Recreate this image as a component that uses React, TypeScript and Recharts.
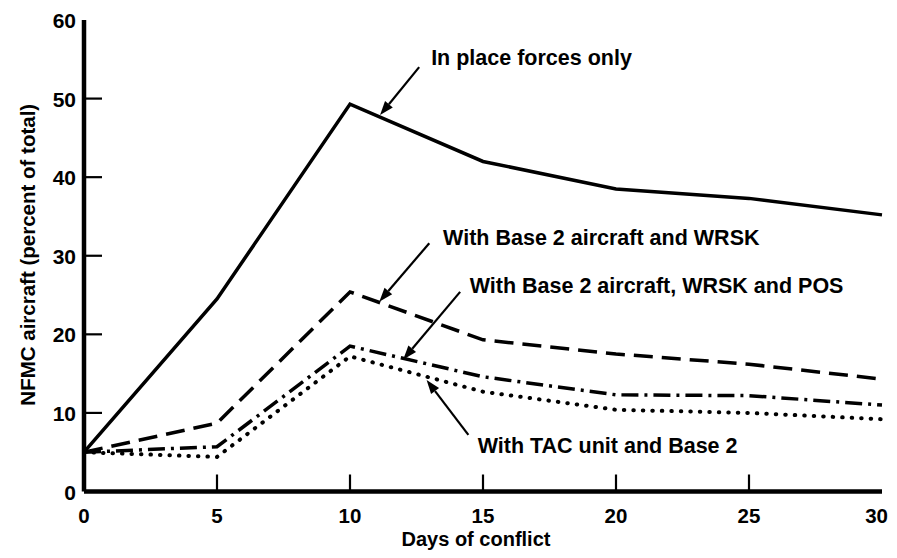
import React from "react";
import {
  LineChart,
  Line,
  XAxis,
  YAxis,
  ReferenceLine,
  ReferenceDot,
} from "recharts";

// ---- Data ----
const days = [0, 5, 10, 15, 20, 25, 30];
const inPlaceForces = [5, 24.5, 49.3, 42, 38.5, 37.3, 35.2];
const base2Wrsk = [5, 8.7, 25.4, 19.3, 17.5, 16.2, 14.3];
const base2WrskPos = [5, 5.7, 18.5, 14.6, 12.3, 12.2, 11.0];
const tacBase2 = [5, 4.4, 17.2, 12.7, 10.4, 10.0, 9.2];

const xTicks = [0, 5, 10, 15, 20, 25, 30];
const yTicks = [0, 10, 20, 30, 40, 50, 60];

const seriesLabels = [
  "In place forces only",
  "With Base 2 aircraft and WRSK",
  "With Base 2 aircraft, WRSK and POS",
  "With TAC unit and Base 2",
];

// annotation anchors in data units: text start, arrow tail, arrow tip
const labelPos = [
  { x: 13.05, y: 54.3 },
  { x: 13.5, y: 31.4 },
  { x: 14.5, y: 25.2 },
  { x: 14.8, y: 4.85 },
];
const arrowFrom = [
  { x: 12.6, y: 54.0 },
  { x: 12.98, y: 31.6 },
  { x: 14.14, y: 25.4 },
  { x: 14.45, y: 7.2 },
];
const arrowTo = [
  { x: 11.13, y: 47.9 },
  { x: 11.1, y: 24.15 },
  { x: 12.0, y: 16.8 },
  { x: 12.88, y: 14.2 },
];

const data = days.map((d, i) => ({
  day: d,
  a: inPlaceForces[i],
  b: base2Wrsk[i],
  c: base2WrskPos[i],
  d: tacBase2[i],
}));

const FONT = "'Liberation Sans', Arial, Helvetica, sans-serif";

const XTick = (props: any) => {
  const { x, y, payload } = props;
  const v = payload.value;
  const edge = v === 0 || v === 30;
  const last = v === 30;
  return (
    <g>
      {!edge && (
        <line x1={x} x2={x} y1={y} y2={y - 17} stroke="#000" strokeWidth={2.2} />
      )}
      <text
        x={last ? x + 6 : x}
        y={y + 31}
        textAnchor={last ? "end" : "middle"}
        fontFamily={FONT}
        fontWeight="bold"
        fontSize={20.5}
        fill="#000"
      >
        {v}
      </text>
    </g>
  );
};

const YTick = (props: any) => {
  const { x, y, payload } = props;
  const v = payload.value;
  const edge = v === 0 || v === 60;
  return (
    <g>
      {!edge && (
        <line x1={x} x2={x + 18} y1={y} y2={y} stroke="#000" strokeWidth={2.2} />
      )}
      <text
        x={x - 8}
        y={y + 8}
        textAnchor="end"
        fontFamily={FONT}
        fontWeight="bold"
        fontSize={21}
        fill="#000"
      >
        {v}
      </text>
    </g>
  );
};

const XLabel = (props: any) => {
  const vb = props.viewBox || { x: 0, y: 0, width: 0, height: 0 };
  return (
    <text
      x={vb.x + vb.width / 2 - 7}
      y={vb.y + 54}
      textAnchor="middle"
      fontFamily={FONT}
      fontWeight="bold"
      fontSize={20}
      fill="#000"
    >
      Days of conflict
    </text>
  );
};

const YLabel = (props: any) => {
  const vb = props.viewBox || { x: 0, y: 0, width: 0, height: 0 };
  const cx = vb.x + 19;
  const cy = vb.y + vb.height / 2 - 1;
  return (
    <text
      x={cx}
      y={cy}
      transform={`rotate(-90 ${cx} ${cy})`}
      textAnchor="middle"
      dominantBaseline="central"
      fontFamily={FONT}
      fontWeight="bold"
      fontSize={20.5}
      fill="#000"
    >
      NFMC aircraft (percent of total)
    </text>
  );
};

const arrowShape = (p: any) => {
  const { x1, y1, x2, y2 } = p;
  const dx = x2 - x1;
  const dy = y2 - y1;
  const len = Math.sqrt(dx * dx + dy * dy) || 1;
  const ux = dx / len;
  const uy = dy / len;
  const hl = 14;
  const hw = 5;
  const bx = x2 - ux * hl;
  const by = y2 - uy * hl;
  const pts = `${x2},${y2} ${bx - uy * hw},${by + ux * hw} ${bx + uy * hw},${by - ux * hw}`;
  return (
    <g>
      <line x1={x1} y1={y1} x2={bx} y2={by} stroke="#000" strokeWidth={2.2} />
      <polygon points={pts} fill="#000" />
    </g>
  );
};

const makeTextShape = (label: string) => (p: any) => (
  <text
    x={p.cx}
    y={p.cy}
    fontFamily={FONT}
    fontWeight="bold"
    fontSize={21.5}
    fill="#000"
  >
    {label}
  </text>
);

export default function App() {
  return (
    <div style={{ width: 889, height: 542, background: "#fff" }}>
      <LineChart
        width={889}
        height={542}
        data={data}
        margin={{ top: 12, right: 15, left: 0, bottom: 0 }}
      >
        <XAxis
          dataKey="day"
          type="number"
          domain={[0, 30]}
          ticks={xTicks}
          interval={0}
          height={58.5}
          tickSize={0}
          tickMargin={0}
          tickLine={false}
          axisLine={{ stroke: "#000", strokeWidth: 4.5 }}
          tick={<XTick />}
          label={<XLabel />}
        />
        <XAxis
          xAxisId="top"
          dataKey="day"
          type="number"
          domain={[0, 30]}
          orientation="top"
          height={0}
          tick={false}
          tickLine={false}
          axisLine={{ stroke: "#000", strokeWidth: 3.5 }}
        />
        <YAxis
          type="number"
          domain={[0, 60]}
          ticks={yTicks}
          interval={0}
          width={76}
          tickSize={0}
          tickMargin={0}
          tickLine={false}
          axisLine={{ stroke: "#000", strokeWidth: 4.5 }}
          tick={<YTick />}
          label={<YLabel />}
        />
        <YAxis
          yAxisId="right"
          orientation="right"
          type="number"
          domain={[0, 60]}
          width={0}
          tick={false}
          tickLine={false}
          axisLine={{ stroke: "#000", strokeWidth: 3 }}
        />
        <Line
          dataKey="a"
          type="linear"
          stroke="#000"
          strokeWidth={3.5}
          dot={false}
          isAnimationActive={false}
        />
        <Line
          dataKey="b"
          type="linear"
          stroke="#000"
          strokeWidth={3.5}
          strokeDasharray="19 9"
          dot={false}
          isAnimationActive={false}
        />
        <Line
          dataKey="c"
          type="linear"
          stroke="#000"
          strokeWidth={3.5}
          strokeDasharray="17 6 3 6"
          dot={false}
          isAnimationActive={false}
        />
        <Line
          dataKey="d"
          type="linear"
          stroke="#000"
          strokeWidth={4}
          strokeLinecap="round"
          strokeDasharray="0.5 9"
          dot={false}
          isAnimationActive={false}
        />
        {seriesLabels.map((lab, i) => (
          <ReferenceLine
            key={`arr${i}`}
            segment={[arrowFrom[i], arrowTo[i]]}
            shape={arrowShape}
            ifOverflow="visible"
          />
        ))}
        {seriesLabels.map((lab, i) => (
          <ReferenceDot
            key={`lab${i}`}
            x={labelPos[i].x}
            y={labelPos[i].y}
            r={0}
            ifOverflow="visible"
            shape={makeTextShape(lab)}
          />
        ))}
      </LineChart>
    </div>
  );
}
